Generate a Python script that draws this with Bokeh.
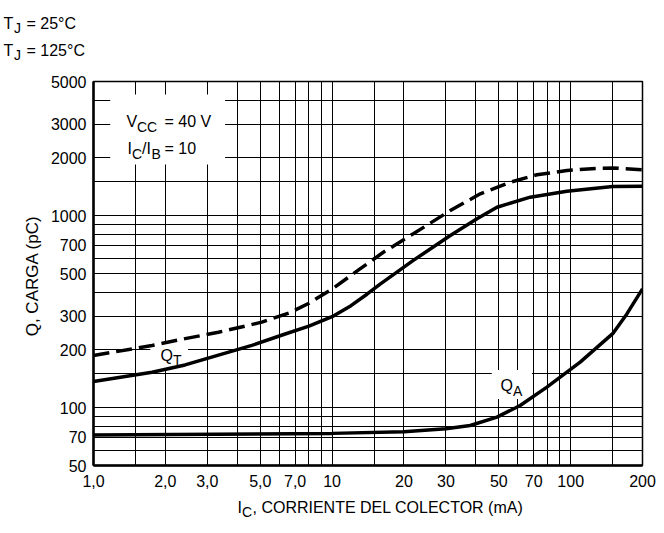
from bokeh.plotting import figure
from bokeh.models import Range1d, FixedTicker, Label, BoxAnnotation
from bokeh.layouts import column
from bokeh.embed import file_html
from bokeh.resources import INLINE

# ---------------- data ----------------
# Q_T at T_J = 25 C (solid)
qt25_ic = [1.0, 1.76, 2.42, 3.34, 4.61, 6.36, 8.0, 10.0, 12.0, 14.0, 15.9, 21.9, 31.3, 40.5, 49.1, 67.7, 96.4, 150.0, 200.0]
qt25_q = [137, 153, 167, 188, 211, 242, 266, 298, 340, 390, 440, 585, 789, 963, 1107, 1249, 1342, 1419, 1425]
# Q_T at T_J = 125 C (dashed)
qt125_ic = [1.0, 1.76, 2.42, 3.34, 5.08, 6.67, 8.0, 10.0, 13.0, 16.4, 21.9, 31.3, 41.8, 55.8, 72.2, 96.4, 133.0, 150.0, 200.0]
qt125_q = [187, 211, 229, 247, 279, 313, 350, 415, 525, 645, 805, 1064, 1300, 1494, 1633, 1720, 1768, 1772, 1734]
# Q_A at T_J = 25 C (solid)
qa_ic = [1.0, 10.0, 20.0, 30.0, 37.9, 49.1, 61.4, 79.5, 109.6, 150.0, 172.0, 200.0]
qa_q = [72, 73.5, 75, 77.6, 80.8, 89.3, 102.7, 128, 172.6, 243, 308, 416]

x_tick_vals = [1, 2, 3, 5, 7, 10, 20, 30, 50, 70, 100, 200]
x_tick_labels = ["1,0", "2,0", "3,0", "5,0", "7,0", "10", "20", "30", "50", "70", "100", "200"]
y_tick_vals = [50, 70, 100, 200, 300, 500, 700, 1000, 2000, 3000, 5000]
y_tick_labels = ["50", "70", "100", "200", "300", "500", "700", "1000", "2000", "3000", "5000"]
x_grid_vals = [1.5, 2, 3, 4, 5, 6, 7, 8, 9, 10, 15, 20, 30, 40, 50, 60, 70, 80, 90, 100, 150]
y_grid_vals = [60, 70, 80, 90, 100, 150, 200, 300, 400, 500, 600, 700, 800, 900, 1000, 1500, 2000, 3000, 4000]

FONT = "Liberation Sans, Arial, sans-serif"
MAIN = "16px"
SUB = "14px"

W = 664
TOP_H = 67          # strip holding the temperature legend text
MAIN_H = 427        # chart
BOT_H = 533 - TOP_H - MAIN_H   # strip holding the x-axis title
# frame geometry (page pixels)
FL, FT, FR, FB = 93, 81, 642, 465


def strip(height):
    f = figure(width=W, height=height, x_range=Range1d(0, W), y_range=Range1d(height, 0),
               output_backend="svg", toolbar_location=None, min_border=0,
               x_axis_location=None, y_axis_location=None, frame_align=False)
    f.grid.visible = False
    f.outline_line_color = None
    f.background_fill_color = "white"
    f.border_fill_color = "white"
    return f


def stxt(f, top, text, px, py, size=MAIN):
    """Text in a strip figure; (px, py) are page pixels, py the baseline."""
    f.add_layout(Label(x=px, y=py - top, text=text, text_font=FONT, text_font_size=size,
                       text_color="black", text_align="left", text_baseline="alphabetic"))


# ---------------- main chart ----------------
p = figure(width=W, height=MAIN_H, x_axis_type="log", y_axis_type="log",
           x_range=Range1d(1, 200), y_range=Range1d(50, 5000),
           output_backend="svg", toolbar_location=None, frame_align=False,
           min_border_left=FL, min_border_right=W - FR,
           min_border_top=FT - TOP_H, min_border_bottom=TOP_H + MAIN_H - FB)
p.background_fill_color = "white"
p.border_fill_color = "white"
p.outline_line_color = "black"
p.outline_line_width = 1.5

p.xgrid.ticker = FixedTicker(ticks=x_grid_vals)
p.ygrid.ticker = FixedTicker(ticks=y_grid_vals)
for g in (p.xgrid, p.ygrid):
    g.grid_line_color = "black"
    g.grid_line_width = 1
    g.grid_line_alpha = 1

p.xaxis.ticker = FixedTicker(ticks=x_tick_vals)
p.xaxis.major_label_overrides = dict(zip(x_tick_vals, x_tick_labels))
p.yaxis.ticker = FixedTicker(ticks=y_tick_vals)
p.yaxis.major_label_overrides = dict(zip(y_tick_vals, y_tick_labels))
for ax in (p.xaxis, p.yaxis):
    ax.axis_line_width = 2.5
    ax.axis_line_color = "black"
    ax.major_tick_in = 0
    ax.major_tick_out = 0
    ax.minor_tick_in = 0
    ax.minor_tick_out = 0
    ax.major_label_text_font = FONT
    ax.major_label_text_font_size = MAIN
    ax.major_label_text_color = "black"
    ax.axis_label_text_font = FONT
    ax.axis_label_text_font_style = "normal"
    ax.axis_label_text_color = "black"
p.xaxis.major_label_standoff = 9
p.yaxis.major_label_standoff = 7
p.yaxis.axis_label = "Q, CARGA  (pC)"
p.yaxis.axis_label_text_font_size = "17px"
p.yaxis.axis_label_standoff = 6

# white boxes that interrupt the grid (under the curves)
for l, r, b, t in [(1.175, 3.56, 1848, 4277), (1.73, 2.49, 160, 216), (46.7, 68.8, 111, 157)]:
    p.add_layout(BoxAnnotation(left=l, right=r, bottom=b, top=t, fill_color="white",
                               fill_alpha=1, line_alpha=0, level="underlay"))

p.line(qt25_ic, qt25_q, line_color="black", line_width=3.5)
p.line(qt125_ic, qt125_q, line_color="black", line_width=3.5, line_dash="16 7")
p.line(qa_ic, qa_q, line_color="black", line_width=3.5)


def txt(text, px, py, size=MAIN):
    """Text inside the frame at page pixel (px, baseline py), anchored to the frame's top-left."""
    p.add_layout(Label(x=1, y=5000, x_offset=px - FL, y_offset=FT - py, text=text,
                       text_font=FONT, text_font_size=size, text_color="black",
                       text_align="left", text_baseline="alphabetic"))


# conditions box
txt("V", 126, 121)
txt("CC", 136.5, 126, SUB)
txt("= 40 V", 164, 121)
txt("I", 127, 148)
txt("C", 131.5, 153, SUB)
txt("/I", 141.5, 148)
txt("B", 151, 153, SUB)
txt("= 10", 164, 148)

# curve labels
txt("Q", 160, 355)
txt("T", 172.5, 359, SUB)
txt("Q", 500, 385)
txt("A", 512.5, 390, SUB)

# ---------------- top strip: temperature legend ----------------
top = strip(TOP_H)
for base, t in [(23, "= 25°C"), (50, "= 125°C")]:
    stxt(top, 0, "T", 3, base)
    stxt(top, 0, "J", 13.5, base + 4, SUB)
    stxt(top, 0, t, 26, base)

# ---------------- bottom strip: x-axis title ----------------
bot = strip(BOT_H)
b0 = TOP_H + MAIN_H
stxt(bot, b0, "I", 237, 506.5)
stxt(bot, b0, "C", 241.5, 511.5, SUB)
stxt(bot, b0, ", CORRIENTE DEL COLECTOR (mA)", 252, 506.5)

layout = column(top, p, bot, spacing=0)
open("out.html", "w").write(file_html(layout, INLINE))
